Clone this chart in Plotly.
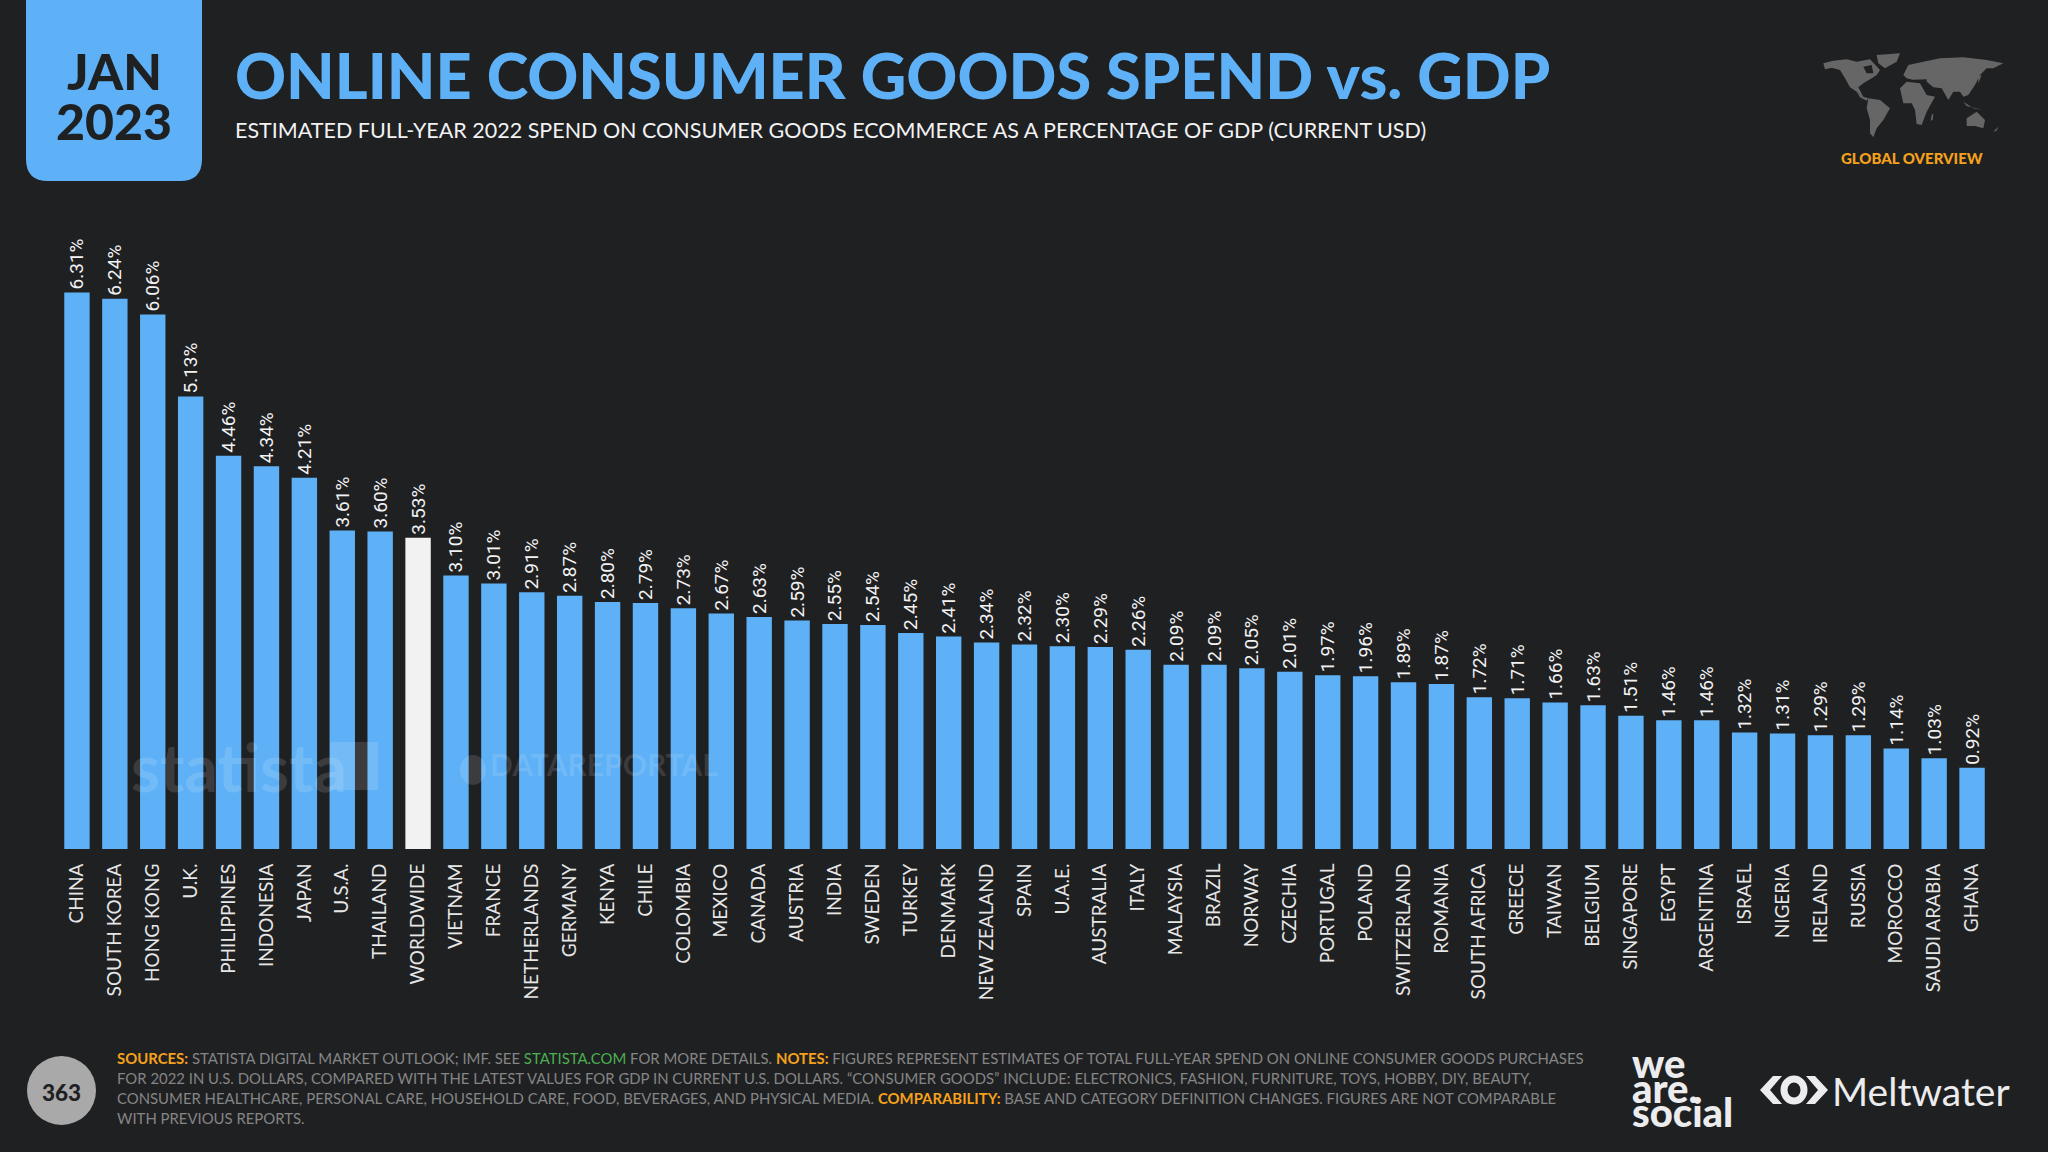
import plotly.graph_objects as go

countries = ["CHINA","SOUTH KOREA","HONG KONG","U.K.","PHILIPPINES","INDONESIA","JAPAN","U.S.A.","THAILAND","WORLDWIDE",
             "VIETNAM","FRANCE","NETHERLANDS","GERMANY","KENYA","CHILE","COLOMBIA","MEXICO","CANADA","AUSTRIA",
             "INDIA","SWEDEN","TURKEY","DENMARK","NEW ZEALAND","SPAIN","U.A.E.","AUSTRALIA","ITALY","MALAYSIA",
             "BRAZIL","NORWAY","CZECHIA","PORTUGAL","POLAND","SWITZERLAND","ROMANIA","SOUTH AFRICA","GREECE","TAIWAN",
             "BELGIUM","SINGAPORE","EGYPT","ARGENTINA","ISRAEL","NIGERIA","IRELAND","RUSSIA","MOROCCO","SAUDI ARABIA","GHANA"]
values = [6.31,6.24,6.06,5.13,4.46,4.34,4.21,3.61,3.60,3.53,
          3.10,3.01,2.91,2.87,2.80,2.79,2.73,2.67,2.63,2.59,
          2.55,2.54,2.45,2.41,2.34,2.32,2.30,2.29,2.26,2.09,
          2.09,2.05,2.01,1.97,1.96,1.89,1.87,1.72,1.71,1.66,
          1.63,1.51,1.46,1.46,1.32,1.31,1.29,1.29,1.14,1.03,0.92]
highlight = "WORLDWIDE"

BG = "#1F2022"; BLUE = "#5EB1F6"; WHITE = "#F2F2F3"; ORANGE = "#F6A11C"; GREEN = "#4CAF50"; GREY = "#858585"
W, H = 2048, 1152
FONT = "Lato"

def fx(x): return x / W
def fy(y): return 1 - y / H

# plot area in pixels
L, R, T, B = 58, 1991, 200, 849
PX_PER_UNIT = 88.2

fig = go.Figure(go.Bar(
    x=countries, y=values,
    marker=dict(color=[WHITE if c == highlight else BLUE for c in countries], line_width=0),
    width=0.67,
    text=[f"{v:.2f}%\u00a0" for v in values],
    textposition="outside", textangle=-90, cliponaxis=False, constraintext="none",
    textfont=dict(family="Liberation Sans Narrow, Roboto", size=19, color=WHITE),
    hoverinfo="skip",
))

shapes, ann = [], []

def text(x, y, s, size, color, xanchor="left", yanchor="middle", weight=None, family=FONT):
    f = dict(family=family, size=size, color=color)
    if weight: f["weight"] = weight
    ann.append(dict(x=fx(x), y=fy(y), xref="paper", yref="paper", text=s, showarrow=False,
                    xanchor=xanchor, yanchor=yanchor, font=f, borderpad=0, borderwidth=0))

def poly(pts, color, tr=lambda p: p):
    d = "M " + " L ".join(f"{fx(tr(p)[0]):.5f},{fy(tr(p)[1]):.5f}" for p in pts) + " Z"
    shapes.append(dict(type="path", xref="paper", yref="paper", path=d, fillcolor=color, line_width=0, layer="above"))

# date badge
r = 22
l_, r_, b_ = 26, 202, 181
shapes.append(dict(type="path", xref="paper", yref="paper", fillcolor=BLUE, line_width=0,
    path=f"M {fx(l_)},{fy(0)} L {fx(r_)},{fy(0)} L {fx(r_)},{fy(b_-r)} Q {fx(r_)},{fy(b_)} {fx(r_-r)},{fy(b_)} "
         f"L {fx(l_+r)},{fy(b_)} Q {fx(l_)},{fy(b_)} {fx(l_)},{fy(b_-r)} Z"))
text(114, 71, "JAN", 50, BG, "center", weight=900)
text(114, 121, "2023", 50, BG, "center", weight=900)

# titles
text(235, 75, "ONLINE CONSUMER GOODS SPEND vs. GDP", 63, BLUE, weight=900)
text(235, 130, "ESTIMATED FULL-YEAR 2022 SPEND ON CONSUMER GOODS ECOMMERCE AS A PERCENTAGE OF GDP (CURRENT USD)", 21.5, WHITE)

# corner world map (decorative)
def m(p): return (1700 + p[0] / 3, p[1] / 3)
MAP = "#666666"
for pts in [
    [(370,190),(400,182),(440,178),(470,185),(510,178),(540,210),(530,225),(515,235),(490,250),(475,262),(490,290),(470,275),(450,262),(435,235),(420,210),(395,203),(375,208)],
    [(530,165),(600,160),(590,185),(555,205),(535,190)],
    [(470,275),(490,290),(505,295),(500,302),(480,292)],
    [(505,295),(540,300),(570,325),(550,360),(530,385),(520,412),(510,400),(510,360),(500,325)],
    [(610,225),(625,195),(670,185),(720,175),(790,172),(860,180),(910,190),(880,205),(860,205),(840,225),(825,255),(805,285),(790,290),(780,275),(760,275),(745,300),(725,265),(700,262),(680,245),(640,240),(620,235)],
    [(600,265),(620,245),(660,250),(680,285),(705,290),(680,335),(665,375),(650,372),(645,330),(635,310),(610,310)],
    [(800,355),(830,335),(855,360),(850,385),(825,378),(800,378)],
    [(695,345),(700,340),(698,360),(692,362)],
    [(790,305),(820,325),(850,330),(800,318)],
    [(835,230),(845,225),(835,250)],
    [(880,395),(895,380),(890,392)],
]:
    poly(pts, MAP, m)
for pts in [[(490,200),(515,195),(520,220),(500,220)], [(625,240),(680,238),(680,246),(630,246)]]:
    poly(pts, BG, m)
text(1912, 158, "GLOBAL OVERVIEW", 15, ORANGE, "center", weight=900)

# watermarks
WM = "rgba(255,255,255,0.13)"
text(131, 766, "statista", 66, WM, weight=700)
shapes.append(dict(type="rect", xref="paper", yref="paper", x0=fx(330), x1=fx(378), y0=fy(790), y1=fy(742),
                   fillcolor=WM, line_width=0, layer="above"))
shapes.append(dict(type="circle", xref="paper", yref="paper", x0=fx(460), x1=fx(486), y0=fy(785), y1=fy(755),
                   fillcolor=WM, line_width=0, layer="above"))
text(490, 764, "DATAREPORTAL", 30, WM, weight=700)

# footer
shapes.append(dict(type="circle", xref="paper", yref="paper", x0=fx(27), x1=fx(96), y0=fy(1125), y1=fy(1056),
                   fillcolor="#A9A9A9", line_width=0))
text(61, 1092, "363", 22.5, BG, "center", weight=900)
def o(s): return f'<b><span style="color:{ORANGE}">{s}</span></b>'
lines = [
    o("SOURCES:") + f' STATISTA DIGITAL MARKET OUTLOOK; IMF. SEE <span style="color:{GREEN}">STATISTA.COM</span> FOR MORE DETAILS. ' + o("NOTES:") +
    " FIGURES REPRESENT ESTIMATES OF TOTAL FULL-YEAR SPEND ON ONLINE CONSUMER GOODS PURCHASES",
    "FOR 2022 IN U.S. DOLLARS, COMPARED WITH THE LATEST VALUES FOR GDP IN CURRENT U.S. DOLLARS. “CONSUMER GOODS” INCLUDE: ELECTRONICS, FASHION, FURNITURE, TOYS, HOBBY, DIY, BEAUTY,",
    "CONSUMER HEALTHCARE, PERSONAL CARE, HOUSEHOLD CARE, FOOD, BEVERAGES, AND PHYSICAL MEDIA. " + o("COMPARABILITY:") +
    " BASE AND CATEGORY DEFINITION CHANGES. FIGURES ARE NOT COMPARABLE",
    "WITH PREVIOUS REPORTS.",
]
for i, s in enumerate(lines):
    text(117, 1058 + i * 20, s, 14.9, GREY)

# logos
for y, s in [(1063, "we"), (1088, "are."), (1112, "social")]:
    text(1632, y, s, 40, "#ECECEE", weight=900)
text(1832, 1091, "Meltwater", 39, "#ECECEE")
# Meltwater mark
def chev(x, sgn):
    return [(x, 1090), (x + sgn*13, 1076), (x + sgn*22, 1076), (x + sgn*10, 1090), (x + sgn*22, 1104), (x + sgn*13, 1104)]
poly(chev(1760, 1), "#ECECEE")
poly(chev(1828, -1), "#ECECEE")
shapes.append(dict(type="circle", xref="paper", yref="paper", x0=fx(1784), x1=fx(1804), y0=fy(1101), y1=fy(1079),
                   fillcolor="rgba(0,0,0,0)", line=dict(color="#ECECEE", width=7), layer="above"))

fig.update_layout(
    width=W, height=H, margin=dict(l=0, r=0, t=0, b=0),
    paper_bgcolor=BG, plot_bgcolor=BG, showlegend=False, bargap=0.33,
    font=dict(family=FONT, color=WHITE),
    xaxis=dict(domain=[fx(L), fx(R)], tickangle=-90, showgrid=False, showline=False, zeroline=False,
               ticks="outside", ticklen=6, tickcolor=BG, tickwidth=1, automargin=False,
               tickfont=dict(family=FONT, size=19, color="#E6E6E6"), categoryorder="array", categoryarray=countries),
    yaxis=dict(domain=[fy(B), fy(T)], range=[0, (B - T) / PX_PER_UNIT], visible=False, automargin=False),
    shapes=shapes, annotations=ann,
)
fig.write_html("out.html", config=dict(displayModeBar=False),
               post_script="document.body.style.margin='0';document.documentElement.style.background='%s';" % BG)
